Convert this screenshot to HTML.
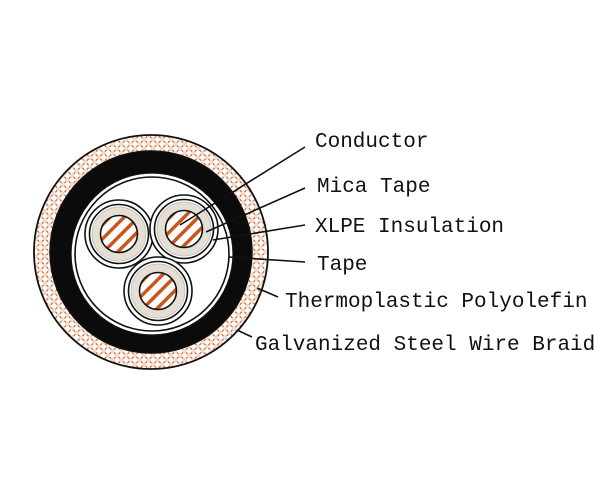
<!DOCTYPE html>
<html><head><style>
html,body{margin:0;padding:0;background:#fff;width:600px;height:500px;overflow:hidden}
svg{display:block}
text{font-family:"Liberation Mono",monospace;font-size:21px;fill:#111}
</style></head><body>
<svg width="600" height="500" viewBox="0 0 600 500" xmlns="http://www.w3.org/2000/svg">
<defs>
<pattern id="braid" width="9" height="9" patternUnits="userSpaceOnUse">
<rect width="9" height="9" fill="#f3d9c6"/>
<path d="M0 0L9 9M9 0L0 9" stroke="#d2602a" stroke-width="2"/>
<circle cx="4.5" cy="4.5" r="2.6" fill="#fff"/>
<circle cx="0" cy="0" r="2.6" fill="#fff"/><circle cx="9" cy="0" r="2.6" fill="#fff"/>
<circle cx="0" cy="9" r="2.6" fill="#fff"/><circle cx="9" cy="9" r="2.6" fill="#fff"/>
</pattern>
<pattern id="stripe" width="10" height="10" patternUnits="userSpaceOnUse" patternTransform="rotate(-45)">
<rect width="10" height="10" fill="#fff"/>
<rect x="0" y="0" width="10" height="3.5" fill="#c8561d"/>
</pattern>
<g id="core">
<circle r="34" fill="#fff" stroke="#111" stroke-width="1.6"/>
<circle r="29.5" fill="#fff" stroke="#111" stroke-width="1.6"/>
<circle r="27" fill="#e4ded3" stroke="#bbb" stroke-width="0.8"/>
<circle r="18.5" fill="url(#stripe)" stroke="#111" stroke-width="1.6"/>
</g>
</defs>
<circle cx="151" cy="252" r="117" fill="url(#braid)" stroke="#111" stroke-width="1.8"/>
<circle cx="151" cy="252" r="101" fill="#0b0b0b" stroke="#111" stroke-width="1.5"/>
<circle cx="152" cy="254" r="81" fill="#fff" stroke="#111" stroke-width="1.2"/>
<circle cx="152" cy="254" r="77" fill="#fff" stroke="#111" stroke-width="1.6"/>
<use href="#core" x="119" y="234"/>
<use href="#core" x="184" y="229"/>
<use href="#core" x="158" y="291"/>
<g stroke="#111" stroke-width="1.6" fill="none">
<line x1="305" y1="147" x2="180" y2="225"/>
<line x1="305" y1="188" x2="206" y2="232"/>
<line x1="305" y1="225" x2="213" y2="240"/>
<line x1="305" y1="262" x2="229" y2="257"/>
<line x1="278" y1="297" x2="257" y2="288"/>
<line x1="252" y1="337" x2="237" y2="330"/>
</g>
<text x="315" y="147">Conductor</text>
<text x="317" y="192">Mica Tape</text>
<text x="315" y="232">XLPE Insulation</text>
<text x="317" y="270">Tape</text>
<text x="285" y="307">Thermoplastic Polyolefin</text>
<text x="255" y="350">Galvanized Steel Wire Braid</text>
</svg>
</body></html>
